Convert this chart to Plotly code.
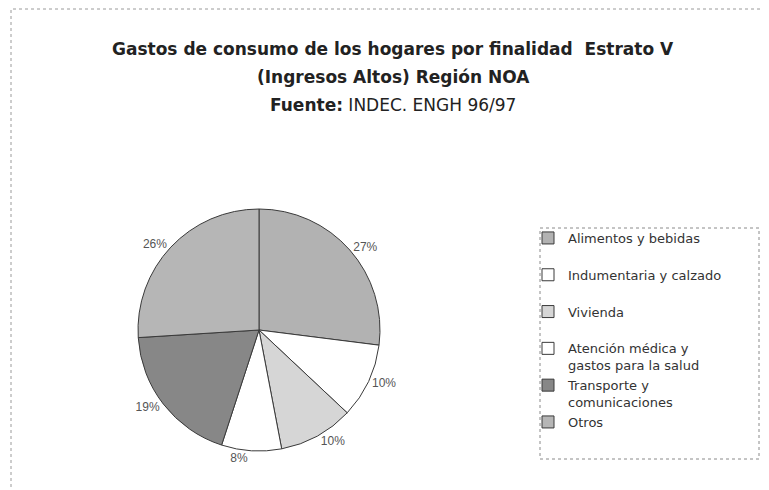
import plotly.graph_objects as go

# ---- data ----
categories = ["Alimentos y bebidas", "Indumentaria y calzado", "Vivienda",
              "Atención médica y<br>gastos para la salud",
              "Transporte y<br>comunicaciones", "Otros"]
values = [27, 10, 10, 8, 19, 26]
slice_colors = ["#b2b2b2", "#ffffff", "#d6d6d6", "#ffffff", "#878787", "#b6b6b6"]
title_lines = ["<b>Gastos de consumo de los hogares por finalidad  Estrato V</b>",
               "<b>(Ingresos Altos) Región NOA</b>",
               "<b>Fuente:</b> INDEC. ENGH 96/97"]

W, H = 769, 490
def px(x):
    return x / W
def py(y):
    return 1 - y / H

# legend labels padded to two lines so every entry has the same height
legend_labels = [c if "<br>" in c else c + "<br>&nbsp;" for c in categories]

fig = go.Figure(go.Pie(
    labels=legend_labels,
    values=values,
    sort=False,
    direction="clockwise",
    rotation=0,
    marker=dict(colors=slice_colors, line=dict(color="#3a3a3a", width=1)),
    texttemplate="%{percent:.0%}",
    textposition="outside",
    textfont=dict(family="Arial, Liberation Sans", size=12, color="#555555"),
    hoverinfo="label+percent",
    domain=dict(x=[px(130), px(372)], y=[py(445), py(199)]),
))

annotations = []
for i, t in enumerate(title_lines):
    annotations.append(dict(
        text=t, x=px(385), y=py(41 + 28 * i), xref="paper", yref="paper",
        xanchor="center", yanchor="middle", showarrow=False,
        font=dict(family="DejaVu Sans", size=17, color="#222222"),
    ))

shapes = [
    dict(type="rect", xref="paper", yref="paper",
         x0=px(3), y0=py(520), x1=px(790), y1=py(1),
         line=dict(color="#9a9a9a", width=1, dash="dot")),
    dict(type="rect", xref="paper", yref="paper",
         x0=px(532), y0=py(451), x1=px(751), y1=py(220),
         line=dict(color="#8a8a8a", width=1, dash="dot")),
]

fig.update_layout(
    width=W, height=H,
    margin=dict(l=0, r=0, t=0, b=0),
    paper_bgcolor="white", plot_bgcolor="white",
    showlegend=True,
    legend=dict(
        x=px(520), y=py(215), xanchor="left", yanchor="top",
        font=dict(family="DejaVu Sans", size=13, color="#333333"),
        valign="top", bgcolor="rgba(0,0,0,0)", borderwidth=0,
        itemclick=False, itemdoubleclick=False,
    ),
    annotations=annotations,
    shapes=shapes,
)

fig.write_html("out.html")
